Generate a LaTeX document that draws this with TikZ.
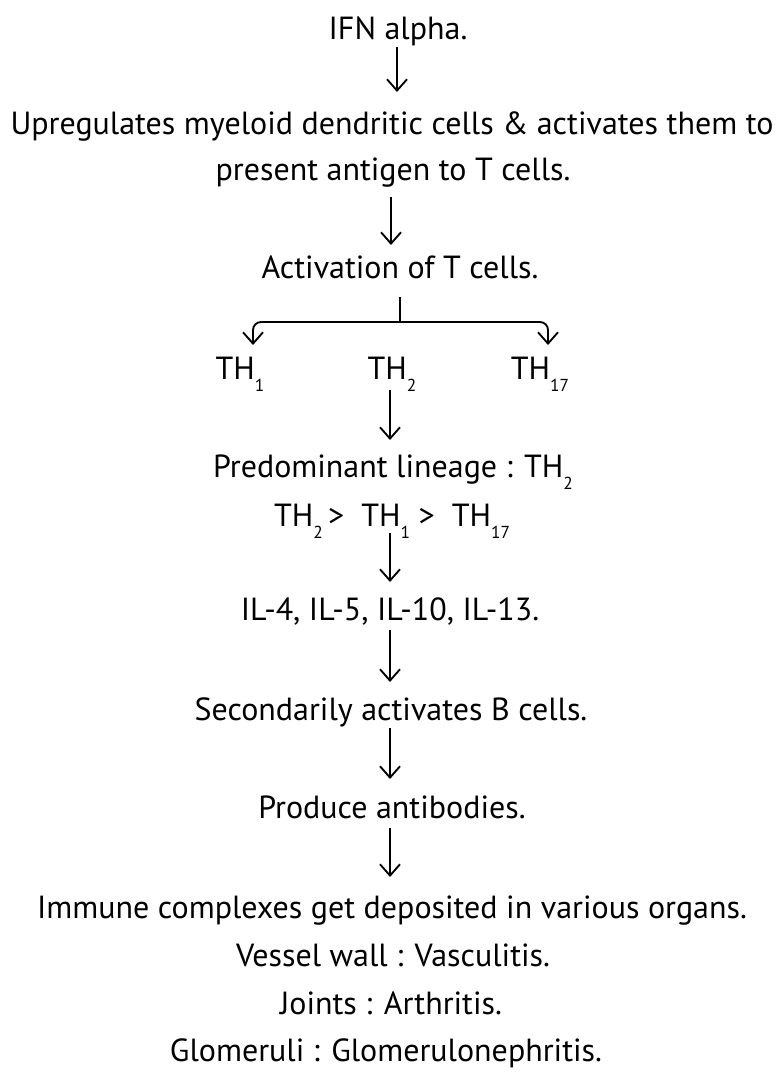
\documentclass[tikz,border=0pt]{standalone}
\usepackage{fontspec}
\setmainfont{PT Sans}
\usetikzlibrary{arrows.meta,calc}
\newcommand\subsc[1]{\raisebox{-0.75ex}{\fontsize{13}{13}\selectfont #1}}
\begin{document}
\begin{tikzpicture}[x=0.75pt,y=-0.75pt,
  txt/.style={font=\fontsize{24}{28}\selectfont, inner sep=0pt, anchor=base},
  arr/.style={line width=1.4pt, -{Straight Barb[length=8.5pt,width=15pt,line width=1.4pt]}},
  ln/.style={line width=1.4pt, rounded corners=6pt}]
\useasboundingbox[fill=white] (0,0) rectangle (781,1073);
\node[txt] (ifn) at (398,40) {IFN alpha.};
\node[txt] (up1) at (392,135) {Upregulates myeloid dendritic cells \& activates them to};
\node[txt] (up2) at (393,181) {present antigen to T cells.};
\node[txt] (act) at (400,278) {Activation of T cells.};
\node[txt] (th1) at (240,379) {TH\subsc{1}};
\node[txt] (th2) at (392,379) {TH\subsc{2}};
\node[txt] (th17) at (540,379) {TH\subsc{17}};
\node[txt] (pred) at (393,477) {Predominant lineage : TH\subsc{2}};
\node[txt] (order) at (392,526) {TH\subsc{2}\,>\ \ TH\subsc{1}\ >\ \ TH\subsc{17}};
\node[txt] (il) at (390,620) {IL-4, IL-5, IL-10, IL-13.};
\node[txt] (bcell) at (391,720) {Secondarily activates B cells.};
\node[txt] (ab) at (392,818) {Produce antibodies.};
\node[txt] (imm) at (392,918) {Immune complexes get deposited in various organs.};
\node[txt] (vw) at (393,966) {Vessel wall : Vasculitis.};
\node[txt] (jt) at (391,1014) {Joints : Arthritis.};
\node[txt] (gl) at (386,1061) {Glomeruli : Glomerulonephritis.};
% arrows
\draw[arr] ($(ifn.base)+(-1,7)$) -- ($(up1.base)+(5,-43)$);
\draw[arr] ($(up2.base)+(-2,16)$) -- ($(act.base)+(-9,-33)$);
\coordinate (br) at ($(act.base)+(0,44)$);
\draw[ln] ($(act.base)+(0,19)$) -- (br);
\draw[ln,arr] (br) -| ($(th1.base)+(13,-34)$);
\draw[ln,arr] (br) -| ($(th17.base)+(8,-34)$);
\draw[arr] ($(th2.base)+(-2,11)$) -- ($(pred.base)+(-3,-37)$);
\draw[arr] ($(order.base)+(-2,7)$) -- ($(il.base)+(0,-38)$);
\draw[arr] ($(il.base)+(0,10)$) -- ($(bcell.base)+(-1,-38)$);
\draw[arr] ($(bcell.base)+(-1,8)$) -- ($(ab.base)+(-2,-39)$);
\draw[arr] ($(ab.base)+(-2,10)$) -- ($(imm.base)+(-2,-41)$);
\end{tikzpicture}
\end{document}
